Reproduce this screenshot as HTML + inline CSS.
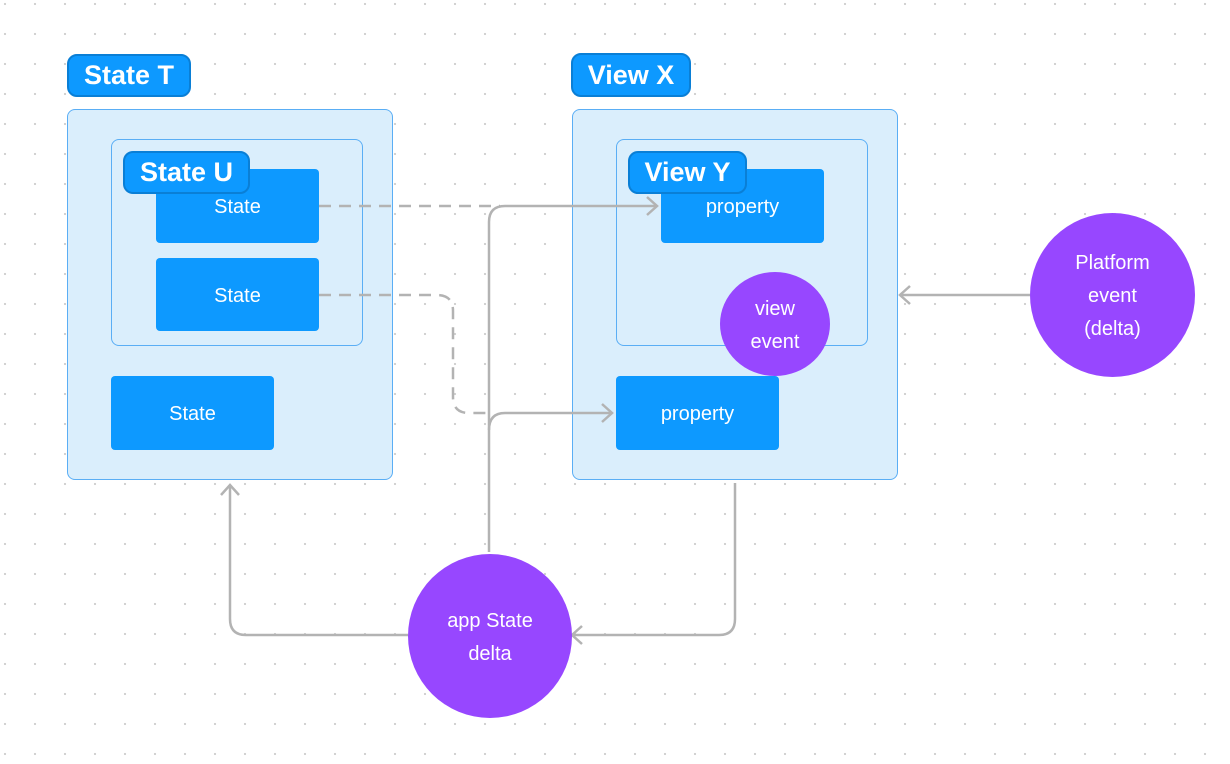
<!DOCTYPE html>
<html><head><style>
body{margin:0;width:1230px;height:764px;overflow:hidden;background:#fff;font-family:"Liberation Sans",sans-serif;
background-image:radial-gradient(circle,#cfcfcf 1px,transparent 1.3px);background-size:30px 30px;background-position:-10px -11px;}
.a{position:absolute;box-sizing:border-box}
.outer{background:#daeefc;border:1px solid #5aaef5;border-radius:8px}
.inner{border:1px solid #5aaef5;border-radius:8px}
.blk{background:#0d99ff;border-radius:4px;color:#fff;font-size:20px;display:flex;align-items:center;justify-content:center;padding-top:3px}
.lbl{background:#0d99ff;border:2px solid #0a7fd6;border-radius:10px;color:#fff;font-size:27px;font-weight:bold;display:flex;align-items:center;justify-content:center}
.c{background:#9747ff;border-radius:50%;color:#fff;font-size:20px;display:flex;align-items:center;justify-content:center;text-align:center;line-height:33px;padding-top:3px}
</style></head><body>
<div class="a outer" style="left:67px;top:109px;width:326px;height:371px"></div>
<div class="a inner" style="left:111px;top:139px;width:252px;height:207px"></div>
<div class="a blk" style="left:156px;top:169px;width:163px;height:74px">State</div>
<div class="a blk" style="left:156px;top:258px;width:163px;height:73px">State</div>
<div class="a blk" style="left:111px;top:376px;width:163px;height:74px">State</div>
<div class="a lbl" style="left:67px;top:54px;width:124px;height:43px">State T</div>
<div class="a lbl" style="left:123px;top:151px;width:127px;height:43px">State U</div>

<div class="a outer" style="left:572px;top:109px;width:326px;height:371px"></div>
<div class="a inner" style="left:616px;top:139px;width:252px;height:207px"></div>
<div class="a blk" style="left:661px;top:169px;width:163px;height:74px">property</div>
<div class="a blk" style="left:616px;top:376px;width:163px;height:74px">property</div>
<div class="a lbl" style="left:571px;top:53px;width:120px;height:44px">View X</div>
<div class="a lbl" style="left:628px;top:151px;width:119px;height:43px">View Y</div>

<svg class="a" style="left:0;top:0" width="1230" height="764" fill="none" stroke="#b3b3b3" stroke-width="2.5">
<path d="M319 206 H500" stroke-dasharray="12 8"/>
<path d="M319 295 H437 Q453 295 453 311 V397 Q453 413 469 413 H490" stroke-dasharray="12 8"/>
<path d="M489 552 V222 Q489 206 505 206 H657"/>
<path d="M647 197 L657 206 L647 215"/>
<path d="M489 430 Q489 413 505 413 H612"/>
<path d="M602 404 L612 413 L602 422"/>
<path d="M735 483 V619 Q735 635 719 635 H572"/>
<path d="M582 626 L572 635 L582 644"/>
<path d="M408 635 H246 Q230 635 230 619 V485"/>
<path d="M221 495 L230 485 L239 495"/>
<path d="M1030 295 H900"/>
<path d="M910 286 L900 295 L910 304"/>
</svg>
<div class="a c" style="left:720px;top:272px;width:110px;height:104px">view<br>event</div>
<div class="a c" style="left:408px;top:554px;width:164px;height:164px">app State<br>delta</div>
<div class="a c" style="left:1030px;top:213px;width:165px;height:164px">Platform<br>event<br>(delta)</div>
</body></html>
